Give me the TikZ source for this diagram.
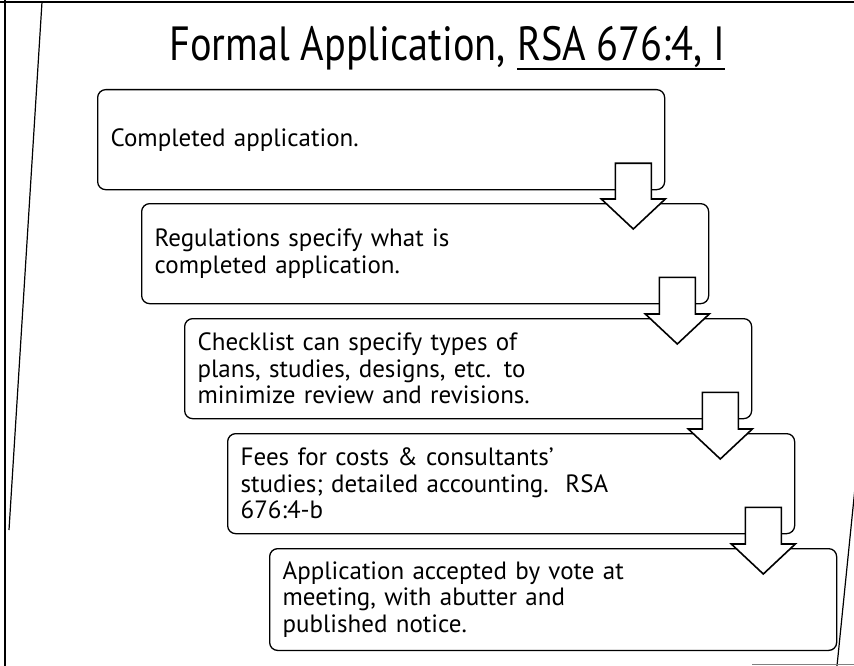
\documentclass[tikz,border=0pt]{standalone}
\usepackage{fontspec}
\setmainfont{PT Sans}
\newfontfamily\titlefont[FakeStretch=0.84]{PT Sans}
\usetikzlibrary{calc,positioning}

\begin{document}
\begin{tikzpicture}[
x=1pt,y=-1pt,
stepbox/.style={
	draw,
	rounded corners=8pt,
	line width=1.3pt,
	minimum width=567pt,
	minimum height=100pt,
	text width=541pt,
	inner sep=13pt,
	align=left,
	anchor=north west,
	font=\fontsize{25}{26.5}\selectfont
},
downarrow/.style={
	draw,
	fill=white,
	line width=1.6pt,
	line join=miter
},
titletext/.style={
	inner sep=0pt,
	font=\titlefont\fontsize{48}{52}\selectfont
},
edge line/.style={
	line width=1.2pt
}
]
\fill[white] (0,0) rectangle (854,666);
\useasboundingbox (0,0) rectangle (854,666);

% page edges
\draw[edge line] (0,2) -- (854,2);
\draw[edge line] (5,0) -- (5,666);
\draw[edge line] (42,2) -- (9,530);
\draw[edge line] (856,478) -- (837,666);
\draw[gray,line width=1pt] (752,664) -- (854,664);

\node[titletext,anchor=base west] (title) at (169,61) {Formal Application,};
\node[titletext,anchor=base west] (rsa) at ($(title.base east)+(11,0)$) {RSA 676:4, I};
\draw[line width=2.4pt] ($(rsa.base west)+(0,8)$) -- ($(rsa.base east)+(0,8)$);

\node[stepbox] (b1) at (97,89) {Completed application.};
\node[stepbox] (b2) at (141,203) {Regulations specify what is\\completed application.};
\node[stepbox] (b3) at (184,318) {Checklist can specify types of\\plans, studies, designs, etc. to\\minimize review and revisions.};
\node[stepbox] (b4) at (227,433) {Fees for costs \& consultants'\\studies; detailed accounting.\ \ RSA\\676:4-b};
\node[stepbox] (b5) at (269,548) {Application accepted by vote at\\meeting, with abutter and\\published notice.};

\foreach \a/\b in {b1/b2,b2/b3,b3/b4,b4/b5}{
	\coordinate (top) at ($(\a.south east)+(-32,-27)$);
	\coordinate (tip) at ($(top |- \b.north)+(0,26)$);
	\draw[downarrow] (tip) -- ++(32,-30) -- ++(-14,0) -- ($(top)+(18,0)$)
		-- ($(top)+(-18,0)$) -- ($(tip)+(-18,-30)$) -- ++(-14,0) -- cycle;
}
\end{tikzpicture}
\end{document}
